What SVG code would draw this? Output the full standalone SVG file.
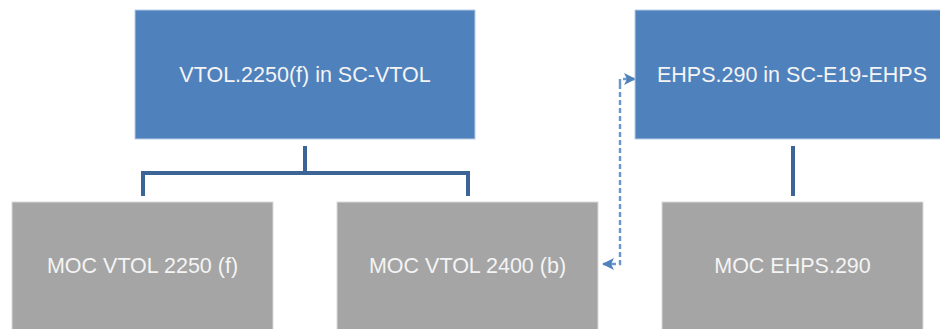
<svg xmlns="http://www.w3.org/2000/svg" width="940" height="329" viewBox="0 0 940 329">
<style>
.blue{fill:#4F81BD;stroke:#B9CDE5;stroke-width:1}
.gray{fill:#A5A5A5;stroke:#D9D9D9;stroke-width:1}
.lbl{font-family:"Liberation Sans",Arial,sans-serif;font-size:21.5px;fill:#F4F4F4;text-anchor:middle}
.tree{fill:none;stroke:#3C6496;stroke-width:4}
.dash{fill:none;stroke:#6F97CF;stroke-width:2.5;stroke-dasharray:5 3}
</style>
<defs>
<marker id="arr" markerWidth="12" markerHeight="12" refX="11" refY="6" orient="auto" markerUnits="userSpaceOnUse">
<path d="M0,0 L12,6 L0,12 L3,6 Z" fill="#4F81BD"/>
</marker>
</defs>
<rect width="940" height="329" fill="#FFFFFF"/>
<g id="connectors">
<path class="tree" d="M305,146 V173 M143,196 V173 H468 V196"/>
<path class="tree" d="M793,146 V196"/>
<path class="dash" d="M620,84 V264 H603" marker-end="url(#arr)"/>
<path class="dash" d="M620,84 V79 H635" marker-end="url(#arr)"/>
</g>
<g id="vtol2250">
<rect class="blue" x="135" y="10" width="340" height="129"/>
<text class="lbl" x="305" y="82">VTOL.2250(f) in SC-VTOL</text>
</g>
<g id="ehps290">
<rect class="blue" x="635" y="10" width="340" height="129"/>
<text class="lbl" x="792" y="82">EHPS.290 in SC-E19-EHPS</text>
</g>
<g id="moc2250">
<rect class="gray" x="12" y="202" width="261" height="140"/>
<text class="lbl" x="142.5" y="273">MOC VTOL 2250 (f)</text>
</g>
<g id="moc2400">
<rect class="gray" x="337" y="202" width="261" height="140"/>
<text class="lbl" x="467.5" y="273">MOC VTOL 2400 (b)</text>
</g>
<g id="mocehps">
<rect class="gray" x="662" y="202" width="261" height="140"/>
<text class="lbl" x="792.5" y="273">MOC EHPS.290</text>
</g>
</svg>
